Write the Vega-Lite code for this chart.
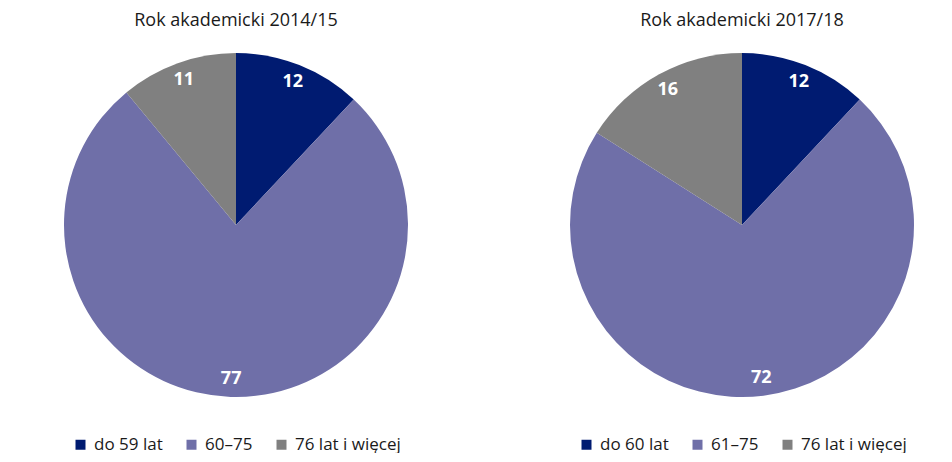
{
  "$schema": "https://vega.github.io/schema/vega-lite/v6.json",
  "padding": {"left": 0, "top": 12, "right": 0, "bottom": 0},
  "background": "white",
  "config": {
    "view": {"stroke": null},
    "font": "Open Sans",
    "concat": {"spacing": 34},
    "title": {"fontSize": 18, "fontWeight": "normal", "color": "#1a1a1a", "offset": 23, "anchor": "middle"},
    "legend": {
      "orient": "bottom", "direction": "horizontal", "title": null,
      "symbolType": "square", "symbolSize": 100, "symbolStrokeWidth": 0,
      "labelFontSize": 17, "labelColor": "#1a1a1a", "columnPadding": 20,
      "offset": 39, "labelOffset": 5,
      "layout": {"bottom": {"anchor": "middle"}}
    }
  },
  "resolve": {"scale": {"color": "independent", "theta": "independent"}},
  "hconcat": [
    {
      "width": 472, "height": 344,
      "title": {"text": "Rok akademicki 2014/15"},
      "data": {"values": [
        {"kat": "do 59 lat", "v": 12, "o": 1},
        {"kat": "60–75", "v": 77, "o": 2},
        {"kat": "76 lat i więcej", "v": 11, "o": 3}
      ]},
      "encoding": {
        "theta": {"field": "v", "type": "quantitative", "stack": true},
        "order": {"field": "o", "type": "quantitative"},
        "color": {"field": "kat", "type": "nominal",
          "scale": {"domain": ["do 59 lat", "60–75", "76 lat i więcej"], "range": ["#001b71", "#6f6fa8", "#808080"]}}
      },
      "layer": [
        {"mark": {"type": "arc", "outerRadius": 172}},
        {"mark": {"type": "text", "radius": 154, "fontWeight": "bold", "fontSize": 18},
         "encoding": {"text": {"field": "v", "type": "quantitative"}, "color": {"value": "white"}}}
      ]
    },
    {
      "width": 472, "height": 344,
      "title": {"text": "Rok akademicki 2017/18"},
      "data": {"values": [
        {"kat": "do 60 lat", "v": 12, "o": 1},
        {"kat": "61–75", "v": 72, "o": 2},
        {"kat": "76 lat i więcej", "v": 16, "o": 3}
      ]},
      "encoding": {
        "theta": {"field": "v", "type": "quantitative", "stack": true},
        "order": {"field": "o", "type": "quantitative"},
        "color": {"field": "kat", "type": "nominal",
          "scale": {"domain": ["do 60 lat", "61–75", "76 lat i więcej"], "range": ["#001b71", "#6f6fa8", "#808080"]}}
      },
      "layer": [
        {"mark": {"type": "arc", "outerRadius": 172}},
        {"mark": {"type": "text", "radius": 154, "fontWeight": "bold", "fontSize": 18},
         "encoding": {"text": {"field": "v", "type": "quantitative"}, "color": {"value": "white"}}}
      ]
    }
  ]
}
